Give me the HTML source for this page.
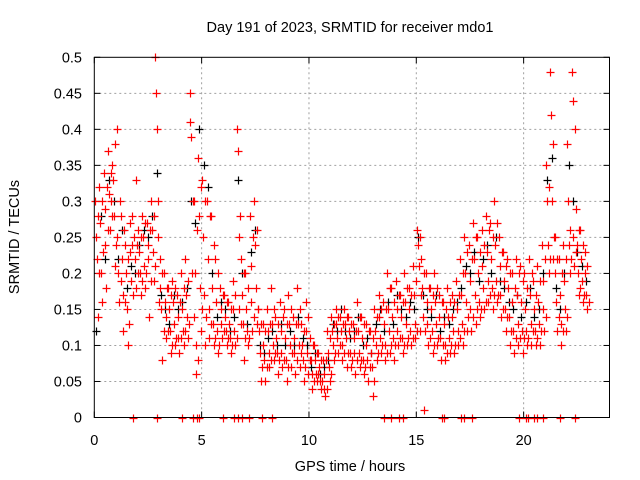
<!DOCTYPE html>
<html><head><meta charset="utf-8"><style>
body{margin:0;background:#fff}
svg{display:block;font-family:"Liberation Sans",sans-serif}
</style></head><body>
<svg id="c" width="640" height="480"></svg>
<script>
const times=[0.1,0.3,0.5,0.7,0.9,1.1,1.3,1.5,1.7,1.9,2.1,2.3,2.5,2.7,2.9,3.1,3.3,3.5,3.7,3.9,4.1,4.3,4.5,4.7,4.9,5.1,5.3,5.5,5.7,5.9,6.1,6.3,6.5,6.7,6.9,7.1,7.3,7.5,7.7,7.9,8.1,8.3,8.5,8.7,8.9,9.1,9.3,9.5,9.7,9.9,10.1,10.3,10.5,10.7,10.9,11.1,11.3,11.5,11.7,11.9,12.1,12.3,12.5,12.7,12.9,13.1,13.3,13.5,13.7,13.9,14.1,14.3,14.5,14.7,14.9,15.1,15.3,15.5,15.7,15.9,16.1,16.3,16.5,16.7,16.9,17.1,17.3,17.5,17.7,17.9,18.1,18.3,18.5,18.7,18.9,19.1,19.3,19.5,19.7,19.9,20.1,20.3,20.5,20.7,20.9,21.1,21.3,21.5,21.7,21.9,22.1,22.3,22.5,22.7,22.9];
const red1=[.30,.32,.34,.37,.35,.40,.28,.24,.27,.25,.26,.28,.27,.30,.50,.22,.20,.18,.19,.17,.20,.22,.45,.30,.36,.33,.30,.28,.22,.18,.17,.16,.19,.40,.22,.20,.28,.30,.15,.13,.15,.18,.14,.16,.15,.17,.14,.18,.13,.16,.11,.10,.09,.08,.12,.14,.15,.14,.15,.14,.13,.16,.14,.13,.12,.15,.17,.16,.20,.18,.19,.17,.20,.18,.21,.26,.22,.20,.18,.20,.17,.16,.18,.17,.19,.22,.25,.24,.27,.25,.26,.28,.27,.30,.25,.23,.22,.20,.22,.21,.20,.22,.19,.21,.24,.35,.48,.25,.22,.24,.38,.48,.29,.26,.23];
const red2=[.25,.27,.29,.31,.33,.25,.22,.20,.23,.22,.23,.25,.24,.26,.45,.18,.16,.15,.16,.14,.15,.17,.41,.20,.28,.25,.22,.18,.16,.15,.14,.13,.15,.37,.17,.15,.21,.24,.12,.10,.12,.13,.11,.12,.11,.13,.11,.13,.10,.12,.08,.08,.07,.06,.09,.12,.13,.12,.13,.12,.11,.12,.11,.10,.09,.12,.14,.13,.15,.14,.15,.14,.16,.15,.17,.24,.18,.16,.15,.16,.14,.13,.14,.14,.15,.17,.20,.19,.22,.20,.21,.23,.22,.24,.21,.19,.18,.16,.17,.16,.15,.17,.15,.16,.19,.30,.42,.20,.17,.19,.30,.44,.24,.22,.20];
const red3=[.22,.20,.24,.26,.28,.20,.17,.15,.19,.18,.20,.21,.22,.23,.40,.15,.14,.12,.13,.11,.12,.14,.39,.10,.18,.17,.15,.13,.12,.13,.12,.11,.12,.25,.13,.12,.16,.18,.09,.08,.09,.10,.09,.09,.08,.10,.09,.10,.08,.09,.06,.06,.05,.04,.07,.10,.11,.10,.11,.09,.09,.09,.08,.08,.07,.10,.11,.10,.12,.11,.12,.11,.13,.12,.13,.21,.14,.13,.12,.13,.11,.10,.11,.12,.12,.13,.16,.15,.17,.16,.18,.19,.18,.19,.17,.15,.14,.12,.13,.12,.12,.13,.12,.13,.15,.24,.30,.16,.13,.15,.24,.25,.20,.19,.17];
const red4=[.14,.16,.18,.30,.21,.16,.12,.10,.28,.33,.17,.18,.14,.19,.25,.08,.11,.09,.10,.09,.10,.11,.20,.06,.12,.10,.11,.10,.09,.11,.10,.09,.10,.15,.08,.10,.12,.13,.05,.05,.07,.08,.06,.07,.05,.07,.06,.07,.05,.06,.04,.05,.04,.03,.05,.08,.09,.08,.07,.07,.06,.07,.06,.05,.03,.08,.09,.08,.09,.08,.10,.09,.10,.10,.11,.12,.01,.10,.09,.10,.08,.08,.09,.09,.10,.10,.12,.12,.13,.14,.15,.16,.15,.16,.14,.12,.10,.09,.10,.09,.10,.10,.10,.10,.12,.20,.22,.12,.10,.12,.20,.21,.17,.16,.15];
const times2=[0.2,0.4,0.6,0.8,1.0,1.2,1.4,1.6,1.8,2.0,2.2,2.4,2.6,2.8,3.0,3.2,3.4,3.6,3.8,4.0,4.2,4.4,4.6,4.8,5.0,5.2,5.4,5.6,5.8,6.0,6.2,6.4,6.6,6.8,7.0,7.2,7.4,7.6,7.8,8.0,8.2,8.4,8.6,8.8,9.0,9.2,9.4,9.6,9.8,10.0,10.2,10.4,10.6,10.8,11.0,11.2,11.4,11.6,11.8,12.0,12.2,12.4,12.6,12.8,13.0,13.2,13.4,13.6,13.8,14.0,14.2,14.4,14.6,14.8,15.0,15.2,15.4,15.6,15.8,16.0,16.2,16.4,16.6,16.8,17.0,17.2,17.4,17.6,17.8,18.0,18.2,18.4,18.6,18.8,19.0,19.2,19.4,19.6,19.8,20.0,20.2,20.4,20.6,20.8,21.0,21.2,21.4,21.6,21.8,22.0,22.2,22.4,22.6,22.8,23.0];
const red5=[.28,.30,.32,.34,.38,.30,.26,.22,.24,.24,.25,.27,.26,.28,.30,.20,.18,.17,.18,.16,.18,.19,.30,.26,.32,.30,.28,.24,.20,.17,.16,.15,.17,.28,.20,.18,.25,.26,.13,.12,.13,.15,.13,.14,.13,.15,.13,.15,.12,.14,.10,.09,.08,.08,.11,.13,.14,.13,.14,.13,.12,.14,.13,.12,.11,.14,.15,.15,.18,.16,.17,.16,.18,.17,.19,.25,.20,.18,.17,.18,.16,.15,.16,.16,.17,.20,.23,.22,.25,.23,.24,.26,.25,.27,.23,.21,.20,.18,.20,.19,.18,.20,.17,.19,.22,.32,.38,.22,.20,.22,.26,.40,.26,.24,.21];
const red6=[.20,.23,.26,.28,.24,.19,.16,.13,.17,.20,.19,.20,.19,.21,.16,.12,.12,.10,.11,.11,.12,.13,.14,.08,.15,.14,.13,.11,.10,.12,.11,.10,.11,.13,.11,.11,.14,.15,.07,.07,.08,.09,.08,.08,.07,.09,.08,.09,.07,.08,.05,.06,.05,.04,.06,.09,.10,.09,.09,.08,.08,.08,.07,.07,.05,.09,.10,.09,.10,.10,.11,.10,.11,.11,.12,.17,.12,.11,.10,.11,.10,.09,.10,.10,.11,.12,.14,.14,.15,.15,.16,.17,.17,.17,.15,.14,.12,.11,.11,.11,.11,.12,.11,.12,.14,.22,.25,.14,.12,.14,.22,.23,.18,.17,.16];
const black1=[.12,.28,.22,.33,.30,.22,.26,.18,.21,.20,.24,.26,.25,.28,.34,.17,.15,.13,.17,.15,.16,.18,.30,.27,.40,.35,.32,.20,.14,.16,.15,.12,.14,.33,.20,.13,.23,.26,.10,.09,.11,.12,.10,.13,.10,.12,.10,.14,.11,.10,.07,.09,.06,.07,.08,.13,.12,.15,.12,.11,.12,.14,.10,.11,.09,.13,.15,.12,.16,.13,.17,.15,.14,.16,.15,.25,.17,.15,.14,.17,.12,.14,.13,.15,.16,.18,.21,.20,.23,.19,.22,.24,.20,.25,.19,.18,.16,.15,.17,.14,.16,.18,.14,.15,.20,.33,.36,.18,.15,.20,.35,.30,.23,.21,.19];
const zeroTimes=[1.8,2.9,4.1,4.6,4.8,4.9,6.0,6.5,6.7,6.9,7.2,7.8,8.3,13.5,13.8,14.2,14.4,16.2,16.3,17.1,17.2,17.6,19.8,20.1,20.2,20.5,20.6,20.9,21.7,22.4];
const xTicks=[0,5,10,15,20];
const yTicks=[0,0.05,0.1,0.15,0.2,0.25,0.3,0.35,0.4,0.45,0.5];
const yTickLabels=["0","0.05","0.1","0.15","0.2","0.25","0.3","0.35","0.4","0.45","0.5"];

const L=94.3,R=609.5,T=57.3,B=417.5,XMAX=24,YMAX=0.5;
const X=v=>L+v/XMAX*(R-L), Y=v=>B-v/YMAX*(B-T);
const svg=document.getElementById('c');const NS='http://www.w3.org/2000/svg';
function mk(tag,at,parent){const e=document.createElementNS(NS,tag);for(const k in at)e.setAttribute(k,at[k]);(parent||svg).appendChild(e);return e;}
const grid=mk('g',{});


xTicks.forEach(t=>{const x=X(t);
 if(t>0){const g=mk('line',{x1:x,x2:x,y1:T,y2:B,stroke:'#a0a0a0','stroke-dasharray':'2,3'},grid);}
 mk('line',{x1:x,x2:x,y1:B,y2:B-6,stroke:'#000'});mk('line',{x1:x,x2:x,y1:T,y2:T+6,stroke:'#000'});
 const l=mk('text',{x:x,y:445,'text-anchor':'middle','font-size':'14.5',fill:'#000'});l.textContent=t;
 
 
});
yTicks.forEach((t,i)=>{const y=Y(t);
 if(t>0&&t<YMAX){const g=mk('line',{x1:L,x2:R,y1:y,y2:y,stroke:'#a0a0a0','stroke-dasharray':'2,3'},grid);}
 mk('line',{x1:L,x2:L+6,y1:y,y2:y,stroke:'#000'});mk('line',{x1:R,x2:R-6,y1:y,y2:y,stroke:'#000'});
 const l=mk('text',{x:82,y:y+5,'text-anchor':'end','font-size':'14.5',fill:'#000'});l.textContent=yTickLabels[i];
 
 
});
function plus(t,v,col,g){const x=Math.round(X(t))+0.5,y=Math.round(Y(v))+0.5;mk('path',{d:`M${x-4},${y}H${x+4}M${x},${y-4}V${y+4}`,stroke:col,'stroke-width':1.2,fill:'none'},g);}
const blk=mk('g',{});


times.forEach((t,i)=>plus(t,black1[i],'#000',blk));
const red=mk('g',{});


[red1,red2,red3,red4].forEach((s,k)=>times.forEach((t,i)=>plus(t+(k-1.5)*0.04,s[i],'#f00',red)));
[red5,red6].forEach((s,k)=>times2.forEach((t,i)=>plus(t+(k-0.5)*0.05,s[i],'#f00',red)));
zeroTimes.forEach(t=>plus(t,0,'#f00',red));
const frame=mk('rect',{x:L,y:T,width:R-L,height:B-T,fill:'none',stroke:'#000','stroke-width':1});


const title=mk('text',{x:350,y:32,'text-anchor':'middle','font-size':'14.5'});title.textContent='Day 191 of 2023, SRMTID for receiver mdo1';


const xt=mk('text',{x:350,y:471,'text-anchor':'middle','font-size':'14.5'});xt.textContent='GPS time / hours';


const yt=mk('text',{x:0,y:0,'text-anchor':'middle','font-size':'14.5',transform:'translate(19,237) rotate(-90)'});yt.textContent='SRMTID / TECUs';


</script>
</body></html>
